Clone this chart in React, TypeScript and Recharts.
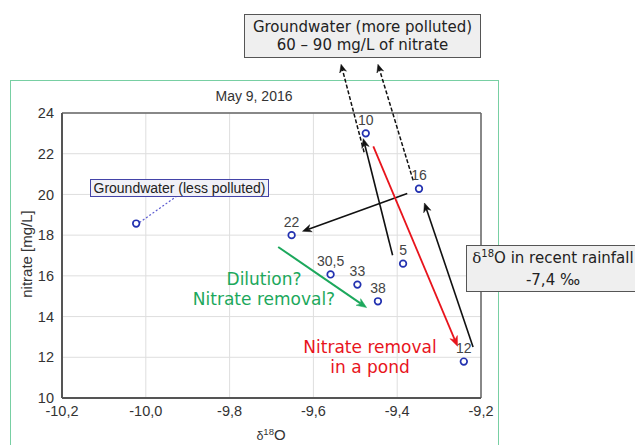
import React from 'react';
import { ScatterChart, Scatter, XAxis, YAxis, CartesianGrid, ReferenceLine, LabelList } from 'recharts';

// Samples (pond / stream sites)
const sampleLabels = ['10', '16', '22', '30,5', '33', '38', '5', '12'];
const sampleO18 = [-9.475, -9.348, -9.652, -9.559, -9.495, -9.446, -9.386, -9.241];
const sampleNitrate = [23.0, 20.28, 18.0, 16.07, 15.57, 14.75, 16.6, 11.79];

// Groundwater (less polluted)
const gwO18 = [-10.023];
const gwNitrate = [18.57];

const xTicks = [-10.2, -10.0, -9.8, -9.6, -9.4, -9.2];
const yTicks = [10, 12, 14, 16, 18, 20, 22, 24];
const xMinorTicks = [-10.2, -10.1, -10.0, -9.9, -9.8, -9.7, -9.6, -9.5, -9.4, -9.3, -9.2];
const yMinorTicks = [10, 11, 12, 13, 14, 15, 16, 17, 18, 19, 20, 21, 22, 23, 24];

// Arrows in data units: [fromX, fromY, toX, toY]
const dashedArrows = [
  [-9.479, 22.07, -9.534, 26.39],
  [-9.362, 20.69, -9.446, 26.39],
];
const blackArrows = [
  [-9.411, 17.01, -9.481, 22.74],
  [-9.376, 20.04, -9.626, 18.19],
  [-9.219, 12.5, -9.335, 19.58],
];
const redArrow = [-9.457, 22.36, -9.256, 12.54];
const greenArrow = [-9.684, 17.42, -9.473, 14.44];
const gwConnector = [-10.015, 18.62, -9.923, 19.96];

const samples = sampleLabels.map((l, i) => ({ x: sampleO18[i], y: sampleNitrate[i], label: l }));
const groundwater = gwO18.map((x, i) => ({ x, y: gwNitrate[i] }));

const makeArrow = (color: string, width: number, dash?: string, head = true, hl = 9, hw = 3.8) => (p: any) => {
  const { x1, y1, x2, y2 } = p;
  const dx = x2 - x1;
  const dy = y2 - y1;
  const len = Math.sqrt(dx * dx + dy * dy) || 1;
  const ux = dx / len;
  const uy = dy / len;
  const nx = -uy;
  const ny = ux;
  const ex = head ? x2 - ux * hl * 0.7 : x2;
  const ey = head ? y2 - uy * hl * 0.7 : y2;
  return (
    <g>
      <line x1={x1} y1={y1} x2={ex} y2={ey} stroke={color} strokeWidth={width} strokeDasharray={dash} />
      {head && (
        <polygon
          points={`${x2},${y2} ${x2 - ux * hl + nx * hw},${y2 - uy * hl + ny * hw} ${x2 - ux * hl * 0.7},${y2 - uy * hl * 0.7} ${x2 - ux * hl - nx * hw},${y2 - uy * hl - ny * hw}`}
          fill={color}
          stroke={color}
          strokeWidth={0.5}
        />
      )}
    </g>
  );
};

const seg = (a: number[]) => [
  { x: a[0], y: a[1] },
  { x: a[2], y: a[3] },
];

const circleShape = (p: any) => (
  <circle cx={p.cx} cy={p.cy} r={3.3} fill="white" stroke="#2231b0" strokeWidth={1.7} />
);

const fmt = (v: number) => v.toFixed(1).replace('.', ',');

const tickStyle = { fontFamily: 'Liberation Sans, Arial, sans-serif', fontSize: 14.5, fill: '#333' };
const minorTickLine = { stroke: '#666', strokeWidth: 1 };

export default function App() {
  return (
    <div style={{ position: 'absolute', left: 0, top: 0, width: 635, height: 445, overflow: 'hidden', background: 'white' }}>
      <div
        style={{
          position: 'absolute',
          left: 10,
          top: 80,
          width: 489,
          height: 420,
          border: '1.5px solid #78cfa3',
          boxSizing: 'border-box',
        }}
      />
      <div style={{ position: 'absolute', left: 0, top: 0 }}>
        <ScatterChart width={635} height={445} margin={{ top: 113, right: 154, bottom: 17, left: 12 }}>
          <CartesianGrid stroke="#dedede" strokeWidth={1} />
          <XAxis
            type="number"
            dataKey="x"
            domain={[-10.2, -9.2]}
            ticks={xTicks}
            tickFormatter={fmt}
            allowDataOverflow
            height={30}
            tickLine={false}
            axisLine={{ stroke: '#555', strokeWidth: 2 }}
            tick={tickStyle}
          />
          <YAxis
            type="number"
            dataKey="y"
            domain={[10, 24]}
            ticks={yTicks}
            allowDataOverflow
            width={50}
            tickLine={false}
            axisLine={{ stroke: '#555', strokeWidth: 2 }}
            tick={tickStyle}
          />
          {/* inward minor tick marks on all four sides */}
          <XAxis xAxisId="mb" type="number" domain={[-10.2, -9.2]} ticks={xMinorTicks} allowDataOverflow mirror orientation="bottom" height={0} tick={false} axisLine={false} tickSize={3} tickLine={minorTickLine} />
          <XAxis xAxisId="mt" type="number" domain={[-10.2, -9.2]} ticks={xMinorTicks} allowDataOverflow mirror orientation="top" height={0} tick={false} axisLine={false} tickSize={3} tickLine={minorTickLine} />
          <YAxis yAxisId="ml" type="number" domain={[10, 24]} ticks={yMinorTicks} allowDataOverflow mirror orientation="left" width={0} tick={false} axisLine={false} tickSize={3} tickLine={minorTickLine} />
          <YAxis yAxisId="mr" type="number" domain={[10, 24]} ticks={yMinorTicks} allowDataOverflow mirror orientation="right" width={0} tick={false} axisLine={false} tickSize={3} tickLine={minorTickLine} />
          <ReferenceLine y={24} stroke="#666" strokeWidth={1.5} />
          <ReferenceLine x={-9.2} stroke="#666" strokeWidth={1.5} />
          <ReferenceLine segment={seg(gwConnector)} ifOverflow="visible" shape={makeArrow('#5a5ad0', 1.2, '2 2', false)} />
          {dashedArrows.map((a, i) => (
            <ReferenceLine key={'d' + i} segment={seg(a)} ifOverflow="visible" shape={makeArrow('#111', 1.5, '4 2', true, 8, 3.5)} />
          ))}
          {blackArrows.map((a, i) => (
            <ReferenceLine key={'b' + i} segment={seg(a)} ifOverflow="visible" shape={makeArrow('#111', 1.6, undefined, true, 9, 3.8)} />
          ))}
          <ReferenceLine segment={seg(redArrow)} ifOverflow="visible" shape={makeArrow('#e8141c', 1.8, undefined, true, 10, 4)} />
          <ReferenceLine segment={seg(greenArrow)} ifOverflow="visible" shape={makeArrow('#1ca85c', 2, undefined, true, 10, 4)} />
          <Scatter data={groundwater} shape={circleShape} isAnimationActive={false} />
          <Scatter data={samples} shape={circleShape} isAnimationActive={false}>
            <LabelList
              dataKey="label"
              position="top"
              offset={4}
              style={{ fontFamily: 'Liberation Sans, Arial, sans-serif', fontSize: 14, fill: '#444' }}
            />
          </Scatter>
        </ScatterChart>
      </div>

      {/* title */}
      <div
        style={{
          position: 'absolute',
          left: 0,
          width: 508,
          top: 88,
          lineHeight: '16px',
          textAlign: 'center',
          fontFamily: 'Liberation Sans, Arial, sans-serif',
          fontSize: 14,
          color: '#333',
        }}
      >
        May 9, 2016
      </div>

      {/* y label */}
      <div
        style={{
          position: 'absolute',
          left: 27,
          top: 254,
          transform: 'translate(-50%, -50%) rotate(-90deg)',
          whiteSpace: 'nowrap',
          fontFamily: 'Liberation Sans, Arial, sans-serif',
          fontSize: 15,
          color: '#333',
          lineHeight: '16px',
        }}
      >
        nitrate [mg/L]
      </div>

      {/* x label */}
      <div
        style={{
          position: 'absolute',
          left: 221,
          width: 100,
          top: 427,
          textAlign: 'center',
          fontFamily: 'Liberation Sans, Arial, sans-serif',
          fontSize: 15,
          color: '#333',
          lineHeight: '16px',
        }}
      >
        <span style={{ fontSize: 12.5 }}>δ</span>
        <sup style={{ fontSize: 9.5, verticalAlign: 'top', lineHeight: '10px' }}>18</sup>O
      </div>

      {/* groundwater less polluted label */}
      <div
        style={{
          position: 'absolute',
          left: 90,
          top: 179,
          width: 179,
          height: 18,
          boxSizing: 'border-box',
          border: '1px solid #4343a8',
          background: '#f1f1f7',
          fontFamily: 'Liberation Sans, Arial, sans-serif',
          fontSize: 14,
          lineHeight: '16px',
          textAlign: 'center',
          color: '#222',
          whiteSpace: 'nowrap',
        }}
      >
        Groundwater (less polluted)
      </div>

      {/* top box */}
      <div
        style={{
          position: 'absolute',
          left: 244,
          top: 14,
          width: 237,
          height: 44,
          boxSizing: 'border-box',
          border: '1px solid #555',
          background: '#efefef',
          fontFamily: 'DejaVu Sans, Verdana, sans-serif',
          fontSize: 15,
          lineHeight: '18px',
          paddingTop: 3,
          textAlign: 'center',
          color: '#222',
          whiteSpace: 'nowrap',
        }}
      >
        Groundwater (more polluted)
        <br />
        60 – 90 mg/L of nitrate
      </div>

      {/* right box */}
      <div
        style={{
          position: 'absolute',
          left: 466,
          top: 245,
          width: 174,
          height: 47,
          boxSizing: 'border-box',
          border: '1px solid #555',
          background: '#efefef',
          fontFamily: 'DejaVu Sans, Verdana, sans-serif',
          fontSize: 15,
          lineHeight: '22px',
          paddingTop: 1,
          textAlign: 'center',
          color: '#222',
          whiteSpace: 'nowrap',
        }}
      >
        <span style={{ fontFamily: 'DejaVu Serif, serif' }}>δ</span>
        <sup style={{ fontSize: 10, verticalAlign: 'top', lineHeight: '14px' }}>18</sup>O in recent rainfall
        <br />
        -7,4 ‰
      </div>

      {/* green annotation */}
      <div
        style={{
          position: 'absolute',
          left: 164,
          width: 200,
          top: 270,
          textAlign: 'center',
          fontFamily: 'DejaVu Sans, Verdana, sans-serif',
          fontSize: 17,
          lineHeight: '19.5px',
          color: '#1ca85c',
          whiteSpace: 'nowrap',
        }}
      >
        Dilution?
        <br />
        Nitrate removal?
      </div>

      {/* red annotation */}
      <div
        style={{
          position: 'absolute',
          left: 270,
          width: 200,
          top: 337,
          textAlign: 'center',
          fontFamily: 'DejaVu Sans, Verdana, sans-serif',
          fontSize: 17,
          lineHeight: '20px',
          color: '#e8141c',
          whiteSpace: 'nowrap',
        }}
      >
        Nitrate removal
        <br />
        in a pond
      </div>
    </div>
  );
}
